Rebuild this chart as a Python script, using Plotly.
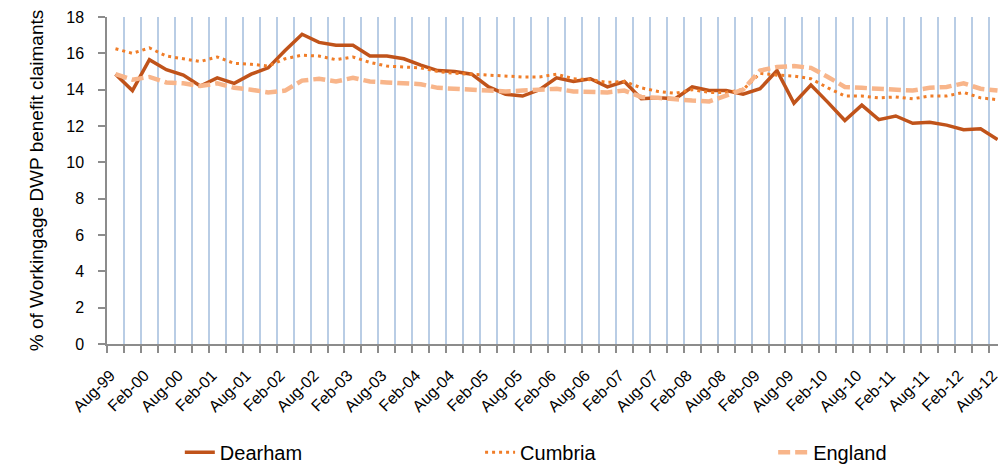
"""Working-age DWP benefit claimants: Dearham vs Cumbria vs England."""

import pandas as pd
import plotly.graph_objects as go

# quarterly, Aug-99 .. Aug-12
QUARTERS = list(pd.date_range("1999-08-01", periods=53, freq="3MS").strftime("%b-%y"))

DEARHAM = [
    14.85, 13.95, 15.65, 15.1, 14.8, 14.2, 14.65, 14.35, 14.85, 15.2,
    16.15, 17.05, 16.6, 16.45, 16.45, 15.85, 15.85, 15.7, 15.35, 15.05,
    15.0, 14.85, 14.15, 13.75, 13.65, 14.0, 14.65, 14.45, 14.6, 14.15,
    14.45, 13.5, 13.55, 13.5, 14.15, 13.95, 13.95, 13.75, 14.05, 15.05,
    13.25, 14.25, 13.3, 12.3, 13.15, 12.35, 12.55, 12.15, 12.2, 12.05,
    11.8, 11.85, 11.25,
]
CUMBRIA = [
    16.25, 16.0, 16.3, 15.85, 15.7, 15.55, 15.8, 15.45, 15.4, 15.3,
    15.7, 15.9, 15.85, 15.65, 15.8, 15.5, 15.3, 15.25, 15.2, 15.0,
    14.9, 14.85, 14.8, 14.75, 14.7, 14.7, 14.85, 14.6, 14.55, 14.4,
    14.45, 14.1, 13.9, 13.8, 14.0, 13.85, 13.85, 14.0, 14.9, 14.8,
    14.75, 14.6, 14.1, 13.65, 13.65, 13.55, 13.6, 13.5, 13.65, 13.65,
    13.85, 13.55, 13.45,
]
ENGLAND = [
    14.85, 14.55, 14.7, 14.4, 14.35, 14.2, 14.35, 14.1, 14.0, 13.85,
    13.95, 14.5, 14.6, 14.45, 14.65, 14.45, 14.4, 14.35, 14.3, 14.1,
    14.05, 13.95, 13.95, 13.9, 13.95, 14.0, 14.05, 13.9, 13.9, 13.85,
    13.95, 13.6, 13.55, 13.45, 13.4, 13.35, 13.65, 14.0, 15.05, 15.25,
    15.3, 15.2, 14.7, 14.15, 14.1, 14.05, 14.05, 13.95, 14.1, 14.15,
    14.35, 14.05, 13.95,
]

# name, values, line style, legend slot
SERIES = [
    ("Dearham", DEARHAM, dict(color="#C0531A", width=3.5, dash="solid"), "legend"),
    ("Cumbria", CUMBRIA, dict(color="#F07D28", width=3, dash="3px,4px"), "legend2"),
    ("England", ENGLAND, dict(color="#F8B58A", width=4.5, dash="12px,5px"), "legend3"),
]
LEGEND_X = [0.081, 0.415, 0.741]

FONT = "Liberation Sans, Arial, sans-serif"
AXIS_GREY = "#8C8C8C"
GRID_BLUE = "#B9CDE5"

x = list(range(len(QUARTERS)))

fig = go.Figure()
for name, values, line, legend in SERIES:
    fig.add_trace(
        go.Scatter(x=x, y=values, name=name, mode="lines", line=line, legend=legend)
    )


def _legend(xpos: float) -> dict:
    return dict(
        orientation="h",
        x=xpos,
        xanchor="left",
        y=-0.331,
        yanchor="middle",
        font=dict(size=20),
        bgcolor="rgba(0,0,0,0)",
    )


# the page body adds an 8px margin, so the figure is 8px smaller than the window
fig.update_layout(
    width=998,
    height=456,
    margin=dict(l=99, r=0, t=9, b=119.5, autoexpand=False),
    paper_bgcolor="white",
    plot_bgcolor="white",
    font=dict(family=FONT, size=16, color="#000000"),
    showlegend=True,
    legend=_legend(LEGEND_X[0]),
    legend2=_legend(LEGEND_X[1]),
    legend3=_legend(LEGEND_X[2]),
)
fig.update_xaxes(
    range=[-0.5, len(QUARTERS) - 0.5],
    tickmode="array",
    tickvals=x[::2],
    ticktext=QUARTERS[::2],
    tickangle=-45,
    ticks="",
    ticklabelstandoff=14,
    ticklabelshift=-5,
    showgrid=False,
    zeroline=False,
    showline=True,
    linecolor=AXIS_GREY,
    linewidth=1.5,
    automargin=False,
    minor=dict(
        tick0=0.5,
        dtick=1,
        ticks="outside",
        ticklen=7,
        tickwidth=1.5,
        tickcolor=AXIS_GREY,
        showgrid=True,
        gridcolor=GRID_BLUE,
        gridwidth=2,
    ),
    fixedrange=True,
)
fig.update_yaxes(
    range=[0, 18],
    dtick=2,
    ticks="outside",
    ticklen=7,
    tickwidth=1.5,
    tickcolor=AXIS_GREY,
    ticklabelstandoff=11,
    showgrid=False,
    zeroline=False,
    showline=True,
    linecolor=AXIS_GREY,
    linewidth=1.5,
    automargin=False,
    title=dict(text="% of Workingage DWP benefit claimants", font=dict(size=19), standoff=18),
    fixedrange=True,
)

fig.write_html("out.html")
